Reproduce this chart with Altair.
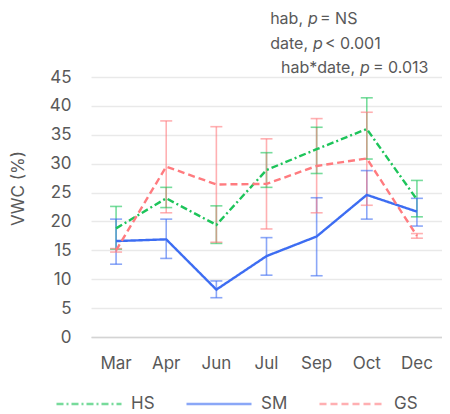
import altair as alt
import pandas as pd

months = ["Mar", "Apr", "Jun", "Jul", "Sep", "Oct", "Dec"]
series = ["HS", "SM", "GS"]

hs_mean = [18.8, 24.0, 19.4, 28.9, 32.5, 36.0, 23.8]
hs_lo = [15.2, 22.4, 16.2, 25.9, 28.3, 30.8, 20.8]
hs_hi = [22.6, 25.9, 22.7, 31.9, 36.3, 41.4, 27.1]

sm_mean = [16.6, 16.9, 8.2, 14.0, 17.4, 24.6, 21.7]
sm_lo = [12.6, 13.6, 6.8, 10.7, 10.6, 20.4, 19.2]
sm_hi = [20.4, 20.4, 9.7, 17.2, 24.1, 28.8, 24.0]

gs_mean = [15.0, 29.5, 26.4, 26.5, 29.6, 30.9, 17.5]
gs_lo = [14.7, 21.5, 16.4, 18.7, 21.5, 22.8, 17.1]
gs_hi = [15.3, 37.4, 36.4, 34.3, 37.8, 38.9, 17.9]

colors = ["#1DC45A", "#3D6DF2", "#FF7B7F"]
dashes = [[7, 3, 2, 3], [1, 0], [7, 4]]

rows = []
for name, m, lo, hi in [("HS", hs_mean, hs_lo, hs_hi),
                        ("SM", sm_mean, sm_lo, sm_hi),
                        ("GS", gs_mean, gs_lo, gs_hi)]:
    for i, mo in enumerate(months):
        rows.append({"month": mo, "series": name, "mean": m[i], "lo": lo[i], "hi": hi[i]})
df = pd.DataFrame(rows)

FONT = "Inter"
TXT = "#595959"

x_axis = alt.Axis(labelAngle=0, labelFontSize=17, labelColor=TXT, labelFont=FONT,
                  ticks=False, grid=False, domain=True, domainColor="#d4d4d4",
                  domainWidth=1.6, labelPadding=18)
x_enc = alt.X("month:N", sort=months, title=None, axis=x_axis)
y_scale = alt.Scale(domain=[0, 45], nice=False)
y_axis = alt.Axis(values=list(range(0, 50, 5)), ticks=False, domain=False, grid=True,
                  gridColor="#e9e9e9", gridWidth=1.3, labelFontSize=17, labelColor=TXT,
                  labelFont=FONT, labelPadding=20, title="VWC (%)", titleFontSize=17,
                  titleFont=FONT, titleColor=TXT, titleFontWeight="normal",
                  titleX=-73, titleY=111, titleAngle=-90, titleBaseline="middle",
                  titleAlign="center")

legend = alt.Legend(title=None, orient="none", direction="horizontal",
                    legendX=-36, legendY=293, symbolType="stroke",
                    symbolSize=4225, symbolStrokeWidth=2.4,
                    labelFontSize=17, labelColor=TXT, labelFont=FONT,
                    labelOffset=8, columnPadding=26, padding=0)
color_enc = alt.Color("series:N", scale=alt.Scale(domain=series, range=colors),
                      sort=series, legend=legend)
dash_enc = alt.StrokeDash("series:N", scale=alt.Scale(domain=series, range=dashes),
                          sort=series, legend=legend)

base = alt.Chart(df)

err = base.mark_rule(strokeWidth=1.6, opacity=0.6).encode(
    x=x_enc,
    y=alt.Y("lo:Q", scale=y_scale, axis=y_axis),
    y2="hi:Q",
    color=color_enc,
)
cap_lo = base.mark_tick(size=12, thickness=1.6, opacity=0.6).encode(
    x=x_enc,
    y=alt.Y("lo:Q", scale=y_scale, axis=y_axis),
    color=color_enc,
)
cap_hi = base.mark_tick(size=12, thickness=1.6, opacity=0.6).encode(
    x=x_enc,
    y=alt.Y("hi:Q", scale=y_scale, axis=y_axis),
    color=color_enc,
)

lines = base.mark_line(strokeWidth=2.4).encode(
    x=x_enc,
    y=alt.Y("mean:Q", scale=y_scale, axis=y_axis),
    color=color_enc,
    strokeDash=dash_enc,
)

ann_df = pd.DataFrame({"k": [0]})
ann_lines = [
    ("hab,", "= NS", -53.0, 212, 217, 229),
    ("date,", "< 0.001", -28.5, 217, 222, 234),
    ("hab*date,", "= 0.013", -4.0, 264, 269, 282),
]
ann = []
for pre, suf, yy, xpre, xp, xsuf in ann_lines:
    ann.append(alt.Chart(ann_df).mark_text(text=pre, align="right", baseline="alphabetic",
                                           fontSize=16, font=FONT, color=TXT).encode(
        x=alt.value(xpre), y=alt.value(yy)))
    ann.append(alt.Chart(ann_df).mark_text(text="p", align="left", baseline="alphabetic",
                                           fontSize=16, font=FONT, fontStyle="italic", color=TXT).encode(
        x=alt.value(xp), y=alt.value(yy)))
    ann.append(alt.Chart(ann_df).mark_text(text=suf, align="left", baseline="alphabetic",
                                           fontSize=16, font=FONT, color=TXT).encode(
        x=alt.value(xsuf), y=alt.value(yy)))

chart = alt.layer(err, cap_lo, cap_hi, lines, *ann).properties(
    width=351, height=260,
    autosize=alt.AutoSizeParams(type="none"),
    padding={"left": 83, "top": 69, "right": 0, "bottom": 120},
).configure(background="white").configure_view(stroke=None)

chart.save("out.html", embed_options={"renderer": "svg", "actions": False})
